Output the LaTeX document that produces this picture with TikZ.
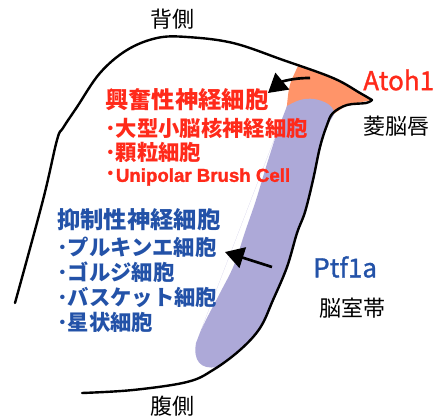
\documentclass[tikz,border=0pt]{standalone}
\usepackage{fontspec}
\setmainfont{Noto Sans CJK JP}
\newfontfamily\genefont[FakeBold=1.2]{Noto Sans CJK JP}
\newfontfamily\latinfont[FakeBold=1.6]{Liberation Sans}
\usepackage{tikz}
\usetikzlibrary{arrows.meta}
\definecolor{excred}{RGB}{255,42,26}
\definecolor{inhblue}{RGB}{35,82,168}
\definecolor{rlorange}{RGB}{255,148,105}
\definecolor{vzpurple}{RGB}{173,169,216}
\tikzstyle{outline}=[draw, line width=1.8pt, line join=round, line cap=round]
\tikzstyle{heading}=[anchor=west, inner sep=0pt, font=\bfseries\fontsize{17.5}{20}\selectfont]
\tikzstyle{cell}=[anchor=west, inner sep=0pt, font=\bfseries\fontsize{16}{18}\selectfont]
\tikzstyle{gene}=[anchor=west, inner sep=0pt, font=\genefont\fontsize{19.5}{22}\selectfont]
\tikzstyle{region}=[inner sep=0pt, font=\fontsize{16.5}{19}\selectfont]
\tikzset{migrate/.style={draw, line width=2pt, -{Triangle[length=14pt,width=16pt]}}}

\begin{document}
\begin{tikzpicture}[x=0.75pt, y=-0.75pt]
	\useasboundingbox (0,0) rectangle (435,420);

	% Rhombic lip and ventricular zone
	\fill[rlorange] plot[smooth, tension=0.5] coordinates {(298,66) (333,78) (360,93) (372,100)}
		-- (347,105) -- (332,115) -- (322,140) -- (282,140) -- (287,105)
		.. controls (289,85) .. (298,66) -- cycle;
	\fill[vzpurple] plot[smooth, tension=0.6] coordinates {
		(287,106) (300,100) (314,99) (328,104) (334,113) (328,125) (321,147)
		(314,180) (306,212) (298,233) (288,267) (274,300) (261,328) (241,350)
		(217,367)}
		.. controls (200,370) and (193,360) .. (196,343)
		plot[smooth, tension=0.6] coordinates {(196,343) (205,322) (220,293)
		(234,265) (245,232) (256,200) (266,167) (277,133) (287,106)} -- cycle;

	% Outline of the cerebellum
	\path[outline] plot[smooth, tension=0.6] coordinates {
		(15,303) (43,200) (57,140) (63,128) (77,107) (100,73) (127,50) (157,38)
		(187,37) (233,43) (283,60) (333,78) (360,93) (372,100)}
		-- plot[smooth, tension=0.6] coordinates {
		(372,100) (366,103) (347,105) (333,113) (327,125) (320,147) (313,180)
		(305,212) (297,233) (287,267) (273,300) (260,328) (240,350) (213,370)
		(187,382) (133,390) (82,393)};

	% Labels
	\foreach \pos/\label/\name in {
		{(172,19)/dorsal/背側},
		{(172,406)/ventral/腹側},
		{(396,126)/lip/菱脳唇},
		{(352,308)/vz/脳室帯}}
	\node[region] (\label) at \pos {\name};

	\foreach \pos/\label/\name in {
		{(363,80)/atoh/Atoh1}}
	\node[gene, text=excred] (\label) at \pos {\name};
	\foreach \pos/\label/\name in {
		{(313,267)/ptf/Ptf1a}}
	\node[gene, text=inhblue] (\label) at \pos {\name};

	% Excitatory neurons
	\node[heading, text=excred] (exc) at (105,100) {興奮性神経細胞};
	\foreach \pos/\label/\name in {
		{(105,128)/dcn/･大型小脳核神経細胞},
		{(105,152)/gc/･顆粒細胞},
		{(105,177)/ubc/･{\latinfont\fontsize{14}{18}\selectfont Unipolar Brush Cell}}}
	\node[cell, text=excred] (\label) at \pos {\name};

	% Inhibitory neurons
	\node[heading, text=inhblue] (inh) at (57,220) {抑制性神経細胞};
	\foreach \pos/\label/\name in {
		{(57,247)/pc/･プルキンエ細胞},
		{(57,272)/goc/･ゴルジ細胞},
		{(57,297)/bc/･バスケット細胞},
		{(57,322)/sc/･星状細胞}}
	\node[cell, text=inhblue] (\label) at \pos {\name};

	% Migration arrows
	\coordinate (rlstart) at (310,78);
	\coordinate (rlend) at (268,93);
	\coordinate (vzstart) at (272,267);
	\coordinate (vzend) at (225,252);
	\path[migrate] (rlstart) to[bend right=20] (rlend);
	\path[migrate] (vzstart) -- (vzend);
\end{tikzpicture}
\end{document}
